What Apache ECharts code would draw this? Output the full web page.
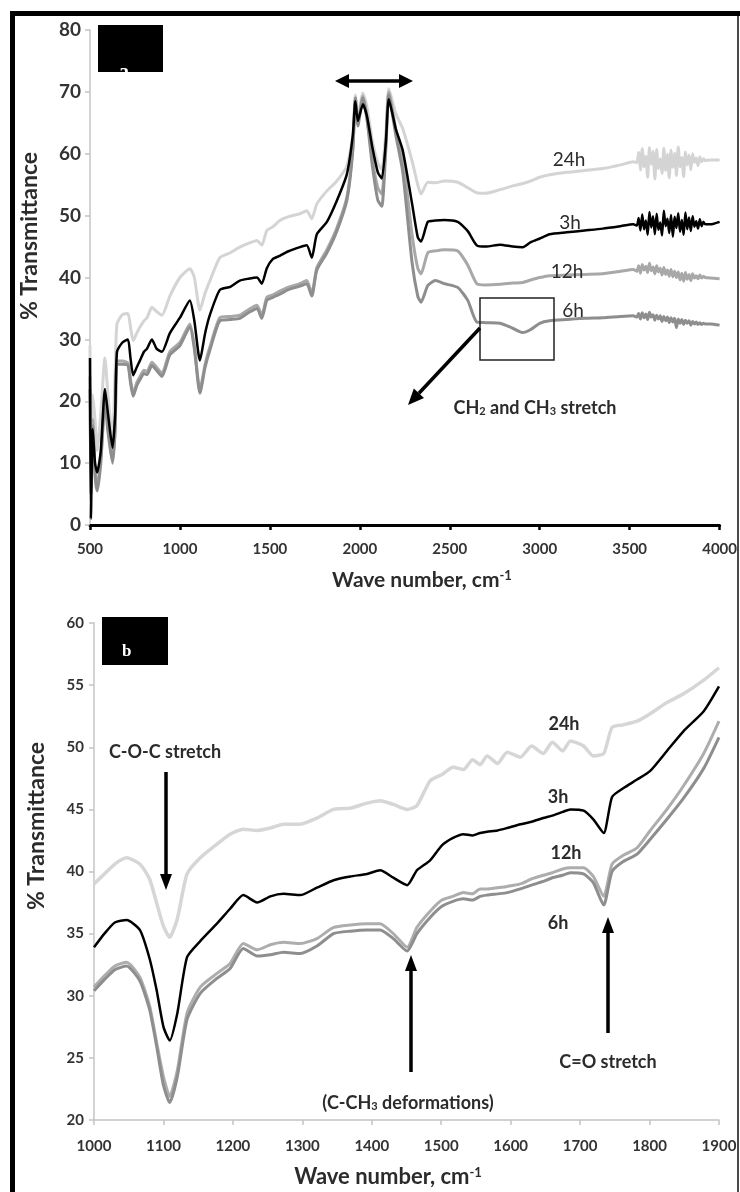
<!DOCTYPE html>
<html><head><meta charset="utf-8">
<script src="https://cdn.jsdelivr.net/npm/echarts@6/dist/echarts.min.js"></script>
<style>html,body{margin:0;padding:0;background:#fff}#c{width:740px;height:1192px}</style>
</head><body><div id="c"></div>
<script>
// ---------- Panel a : full spectrum ----------
const topWn = [500,505,515,528,540, 560,583,600,625,640, 650,680,711,725,740, 760,778,800,817,844,
  870,900,944,1000,1055, 1080,1111,1140,1167,1222, 1280,1333,1380,1428,1455, 1483,1517,1555,1600,1667,
  1705,1733,1761,1817,1872, 1928,1961,1975,1989,2017, 2040,2070,2100,2122,2145, 2161,2200,2239,2290,2322,
  2340,2378,2420,2470,2544, 2600,2650,2700,2780,2850, 2906,2950,3000,3055,3150, 3250,3350,3450,3520,
  3540,3550,3560,3570,3580, 3590,3600,3610,3620,3630, 3640,3650,3660,3670,3680, 3690,3700,3710,3720,3730,
  3740,3750,3760,3770,3780, 3790,3800,3810,3820,3830, 3840,3850,3860,3870,3880, 3890,3900,3910,3920,
  3950,4000];
const top3h = [27,1,15.5,10,8.5, 12,22,18,12.5,18, 28,29.5,30,27,24.2, 25.5,26.6,28,28.5,30,
  28.5,28,31,33.5,36.3, 33,26.6,31,34,38, 38.5,39.5,39.8,40,39, 41.5,43,43.5,44.2,44.9,
  45.2,43.2,47,49,52.4, 56.7,63,68.5,65.3,68, 66,61,57,56,62, 68.8,64,60.5,52,46.5,
  45.8,49,49.2,49.3,49, 47.5,45.2,45,45.3,45, 44.9,45.7,46.3,47,47.3, 47.6,47.9,48.3,48.6,
  48.4,49.6,47.6,50.2,47.8, 49.2,46.9,50.6,48.1,49.9, 47.0,50.3,47.7,48.9,46.8, 50.8,48.3,49.5,47.2,50.1,
  46.6,49.8,48.0,50.4,47.4, 49.3,46.9,50.5,47.8,49.7, 47.5,49.9,48.2,49.1,47.9, 49.4,48.3,49.0,48.6,
  48.6,49];
const top24h = [29,10,21,17,12, 18,27,21,14,25, 32.5,34,34.2,32,29.8, 31,32,33,33.5,35.2,
  34.5,33.9,37,40,41.4, 40,34.7,37.5,39.5,43.2, 44,44.9,45.5,46,45.2, 47.6,48.2,49.2,49.8,50.3,
  50.8,49.5,51.9,54,55.6, 58,63,69.5,66,69.8, 67.5,62,58.5,57.5,63.5, 70.5,66.5,64,58.9,55,
  53.5,55.4,55.3,55.6,55.4, 54.5,53.7,53.6,54.2,54.8, 55.2,55.6,56.2,56.6,57, 57.3,57.6,58.2,58.7,
  58.6,60.2,57.4,60.8,57.9, 59.6,56.2,61.0,58.3,60.4, 55.9,60.7,57.6,59.2,56.8, 60.9,57.3,59.9,56.1,60.6,
  57.8,60.1,56.5,61.1,57.9, 59.4,56.3,60.3,58.2,59.8, 57.4,60.0,58.6,59.3,58.1, 59.5,58.7,59.2,58.9,
  59,59];
const top12h = [24,6,17,9,6, 11,20.5,16,10.5,16, 26.5,26.5,26.2,23.5,21.3, 23,24,25,24.8,26.3,
  25.5,24.5,28,29.5,32.5, 29,21.8,26,28.8,33.5, 33.7,33.9,34.8,35.5,33.9, 36.8,37.2,37.8,38.4,39,
  39.5,37.4,41.6,44.5,48, 53,61,69,65,69.3, 66,59,54.5,53.5,62, 70,64,59.4,47,41.5,
  40.6,44,44.3,44.5,44.3, 42,39,38.8,38.9,39.1, 39.2,39.6,40,40.3,40.4, 40.5,40.6,41,41.3,
  41.0,41.9,40.7,42.1,41.2, 41.8,40.8,42.3,41.1,41.7, 40.6,41.9,40.9,41.5,40.4, 41.6,40.5,41.2,40.2,41.3,
  40.1,41.0,40.0,40.9,39.6, 40.7,39.4,40.8,39.7,40.5, 39.5,40.6,39.9,40.3,39.8, 40.4,39.9,40.2,40.0,
  39.9,39.8];
const top6h = [22,5,16,8,5.5, 10,20,15,10,15.5, 26,26,25.8,23,20.8, 22.5,23.5,24.5,24.3,25.8,
  25,24,27.5,29,32, 28.5,21.3,25.5,28.3,33, 33.2,33.4,34.3,35,33.4, 36.3,36.8,37.3,38,38.6,
  39,37,41.2,44,47.5, 52.5,60.5,69,64.5,69, 65.5,58,52.5,51.5,61, 69.5,63,57,42.5,37,
  36,38.7,39.5,39,38.4, 36.3,32.8,32.7,32.6,31.8, 31.1,31.6,32.6,33,33.2, 33.4,33.5,33.7,33.8,
  33.6,34.2,33.3,34.3,33.5, 34.1,33.2,34.4,33.6,34.0, 33.1,33.9,33.3,33.8,32.9, 33.7,33.0,33.6,32.7,33.5,
  32.8,33.4,31.9,33.3,32.6, 33.2,32.4,33.1,32.6,33.0, 32.3,32.9,32.5,32.8,32.4, 32.7,32.4,32.6,32.5,
  32.5,32.3];

// ---------- Panel b : 1000-1900 cm-1 ----------
const botWn = [1000,1015,1030,1047,1066, 1080,1090,1100,1109,1120, 1134,1153,1177,1196,1215,
  1235,1254,1273,1297,1321, 1345,1369,1393,1412,1431, 1451,1465,1484,1501,1517,
  1532,1545,1556,1566,1581, 1595,1614,1630,1647,1660, 1675,1686,1705,1719,1734,
  1746,1762,1782,1801,1825, 1849,1878,1900];
const bot3h = [33.9,35.0,35.9,36.1,35.3, 33.0,30.5,27.5,26.4,28.6, 33.1,34.4,35.8,37.0,38.1,
  37.5,38.0,38.2,38.1,38.7, 39.3,39.6,39.8,40.1,39.5, 38.9,40.1,40.9,42.1,42.7,
  43.0,42.9,43.1,43.2,43.3, 43.5,43.8,44.0,44.3,44.5, 44.8,45.0,44.9,44.2,43.1,
  46.0,46.7,47.4,48.1,49.7, 51.3,52.9,54.9];
const bot24h = [39.0,39.8,40.6,41.1,40.6, 39.4,37.5,35.6,34.7,36.2, 39.8,41.1,42.2,43.0,43.4,
  43.3,43.5,43.8,43.8,44.3, 45.0,45.1,45.5,45.7,45.4, 45.0,45.3,47.3,47.8,48.4,
  48.2,49.0,48.6,49.3,48.7, 49.6,49.2,50.1,49.5,50.4, 49.7,50.5,50.1,49.3,49.5,
  51.6,51.8,52.1,52.7,53.6, 54.3,55.4,56.4];
const bot12h = [30.7,31.6,32.4,32.7,31.5, 29.2,26.3,23.5,21.9,24.0, 28.6,30.7,31.8,32.6,34.2,
  33.7,34.1,34.3,34.2,34.6, 35.5,35.7,35.8,35.8,35.0, 33.9,35.5,36.8,37.7,38.0,
  38.3,38.2,38.6,38.6,38.7, 38.8,39.0,39.4,39.7,39.9, 40.2,40.3,40.3,39.6,38.0,
  40.6,41.3,41.9,43.3,45.0, 46.9,49.5,52.1];
const bot6h = [30.4,31.3,32.1,32.4,31.2, 28.9,26.0,22.8,21.4,23.5, 28.1,30.2,31.4,32.2,33.8,
  33.2,33.3,33.5,33.4,34.0, 35.0,35.2,35.3,35.3,34.6, 33.6,35.0,36.3,37.2,37.6,
  37.8,37.7,38.0,38.1,38.2, 38.3,38.6,38.9,39.2,39.5, 39.7,39.9,39.8,39.1,37.3,
  40.0,40.8,41.4,42.6,44.2, 45.9,48.3,50.8];

const FONT = 'Lato, "Open Sans", sans-serif';

function pairs(x, y) { return x.map((v, i) => [v, y[i]]); }
function lineSeries(name, xi, data, color, width) {
  return { name, type: 'line', xAxisIndex: xi, yAxisIndex: xi, data, showSymbol: false,
    smooth: 0.2, lineStyle: { color, width }, itemStyle: { color }, z: 3 };
}
function arrow(x1, y1, x2, y2, w, hl, hw) {
  const dx = x2 - x1, dy = y2 - y1, L = Math.hypot(dx, dy);
  const ux = dx / L, uy = dy / L, bx = x2 - ux * hl, by = y2 - uy * hl;
  return [
    { type: 'line', z: 100, shape: { x1, y1, x2: bx, y2: by }, style: { stroke: '#000', lineWidth: w } },
    { type: 'polygon', z: 100, shape: { points: [[x2, y2], [bx - uy * hw, by + ux * hw], [bx + uy * hw, by - ux * hw]] }, style: { fill: '#000' } }
  ];
}
function txt(x, y, text, size, weight, extra) {
  return Object.assign({ type: 'text', x, y, z: 100, style: { text, fontSize: size, fontWeight: weight,
    fontFamily: FONT, fill: '#2b2b2b', textAlign: 'center', textVerticalAlign: 'middle', align: 'center', verticalAlign: 'middle' } }, extra || {});
}
function richTxt(x, y, text, size, weight, rot) {
  return { type: 'text', x, y, z: 100, rotation: rot || 0, style: { text, fontFamily: FONT, fill: '#2b2b2b',
    textAlign: 'center', textVerticalAlign: 'middle', align: 'center', verticalAlign: 'middle',
    rich: {
      a: { fontSize: size, fontWeight: weight, fontFamily: FONT, fill: '#2b2b2b' },
      sup: { fontSize: Math.round(size * 0.6), fontWeight: weight, fontFamily: FONT, fill: '#2b2b2b', verticalAlign: 'top', padding: [0, 0, 6, 0] },
      sub: { fontSize: Math.round(size * 0.62), fontWeight: weight, fontFamily: FONT, fill: '#2b2b2b', verticalAlign: 'bottom', padding: [6, 0, 0, 0] }
    } } };
}

const plain = v => String(v);
const axisLabelCommon = { fontFamily: FONT, fontWeight: 'bold', color: '#333', formatter: plain };
const greyAxis = { show: true, lineStyle: { color: '#c4c4c4', width: 1.5 } };
const greyTick = { show: true, length: 5, inside: false, lineStyle: { color: '#c4c4c4', width: 1.5 } };

const graphic = [].concat(
  [
    { type: 'rect', z: 200, shape: { x: 10, y: 11, width: 730, height: 5 }, style: { fill: '#000' } },
    { type: 'rect', z: 200, shape: { x: 10, y: 11, width: 5, height: 1181 }, style: { fill: '#000' } },
    { type: 'rect', z: 200, shape: { x: 737, y: 16, width: 2, height: 1176 }, style: { fill: '#4a4a4a' } },
    // panel label a
    { type: 'rect', z: 100, shape: { x: 98, y: 25, width: 65, height: 47 }, style: { fill: '#000' } },
    { type: 'text', z: 101, x: 119, y: 63, style: { text: 'a', fontSize: 20, fontWeight: 'bold', fontFamily: 'serif', fill: '#fff' } },
    { type: 'rect', z: 102, shape: { x: 110, y: 72, width: 32, height: 16 }, style: { fill: '#fff' } },
    // panel label b
    { type: 'rect', z: 100, shape: { x: 102, y: 617, width: 66, height: 48 }, style: { fill: '#000' } },
    { type: 'text', z: 101, x: 122, y: 643, style: { text: 'b', fontSize: 17, fontWeight: 'bold', fontFamily: 'serif', fill: '#fff' } },
    { type: 'rect', z: 102, shape: { x: 115, y: 656, width: 30, height: 9 }, style: { fill: '#000' } },
    // axis titles
    txt(30, 236, '% Transmittance', 23, 'bold', { rotation: Math.PI / 2 }),
    txt(37, 826, '% Transmittance', 23, 'bold', { rotation: Math.PI / 2 }),
    richTxt(422, 580, '{a|Wave number, cm}{sup|-1}', 21, 'bold'),
    richTxt(388, 1177, '{a|Wave number, cm}{sup|-1}', 22, 'bold'),
    // series labels panel a
    txt(569, 160, '24h', 19, 'normal'), txt(570, 223, '3h', 19, 'normal'),
    txt(567, 272, '12h', 19, 'normal'), txt(573, 311, '6h', 19, 'normal'),
    // series labels panel b
    txt(564, 724, '24h', 18, 'bold'), txt(558, 797, '3h', 18, 'bold'),
    txt(566, 853, '12h', 18, 'bold'), txt(558, 923, '6h', 18, 'bold'),
    // annotations
    { type: 'rect', z: 100, shape: { x: 480, y: 298, width: 74, height: 62 }, style: { fill: 'none', stroke: '#222', lineWidth: 1.5 } },
    richTxt(535, 408, '{a|CH}{sub|2}{a| and CH}{sub|3}{a| stretch}', 18, 'bold'),
    txt(165, 752, 'C-O-C stretch', 18, 'bold'),
    richTxt(408, 1103, '{a|(C-CH}{sub|3}{a| deformations)}', 18, 'bold'),
    txt(608, 1062, 'C=O stretch', 18, 'bold')
  ],
  arrow(374, 81, 335, 81, 3.5, 14, 7), arrow(374, 81, 413, 81, 3.5, 14, 7),
  arrow(480, 328, 408, 405, 3.5, 16, 7),
  arrow(166, 772, 166, 890, 3.5, 16, 6),
  arrow(411, 1072, 411, 955, 3.5, 16, 6),
  arrow(608, 1033, 608, 917, 3.5, 16, 6)
);

const option = {
  animation: false,
  backgroundColor: '#fff',
  grid: [
    { left: 90, top: 30, width: 630, height: 495 },
    { left: 94, top: 623, width: 625, height: 497 }
  ],
  xAxis: [
    { gridIndex: 0, type: 'value', min: 500, max: 4000, interval: 500,
      axisLine: { show: true, onZero: false, lineStyle: { color: '#000', width: 3 } },
      axisTick: { show: true, length: 5, lineStyle: { color: '#000', width: 2.5 } },
      splitLine: { show: false },
      axisLabel: Object.assign({ fontSize: 15, margin: 17 }, axisLabelCommon) },
    { gridIndex: 1, type: 'value', min: 1000, max: 1900, interval: 100,
      axisLine: Object.assign({ onZero: false }, greyAxis), axisTick: greyTick, splitLine: { show: false },
      axisLabel: Object.assign({ fontSize: 15, margin: 19 }, axisLabelCommon) }
  ],
  yAxis: [
    { gridIndex: 0, type: 'value', min: 0, max: 80, interval: 10,
      axisLine: greyAxis, axisTick: greyTick, splitLine: { show: false },
      axisLabel: Object.assign({ fontSize: 19, margin: 9 }, axisLabelCommon) },
    { gridIndex: 1, type: 'value', min: 20, max: 60, interval: 5,
      axisLine: greyAxis, axisTick: greyTick, splitLine: { show: false },
      axisLabel: Object.assign({ fontSize: 15, margin: 10 }, axisLabelCommon) }
  ],
  series: [
    lineSeries('24h', 0, pairs(topWn, top24h), '#d4d4d4', 3),
    lineSeries('12h', 0, pairs(topWn, top12h), '#a8a8a8', 3),
    lineSeries('6h', 0, pairs(topWn, top6h), '#8e8e8e', 3),
    lineSeries('3h', 0, pairs(topWn, top3h), '#000', 2.5),
    lineSeries('24h', 1, pairs(botWn, bot24h), '#d6d6d6', 3.5),
    lineSeries('12h', 1, pairs(botWn, bot12h), '#adadad', 3),
    lineSeries('6h', 1, pairs(botWn, bot6h), '#8e8e8e', 3),
    lineSeries('3h', 1, pairs(botWn, bot3h), '#000', 2.5)
  ],
  graphic
};
const chart = echarts.init(document.getElementById('c'), null, { renderer: 'canvas' });
chart.setOption(option);
</script></body></html>
